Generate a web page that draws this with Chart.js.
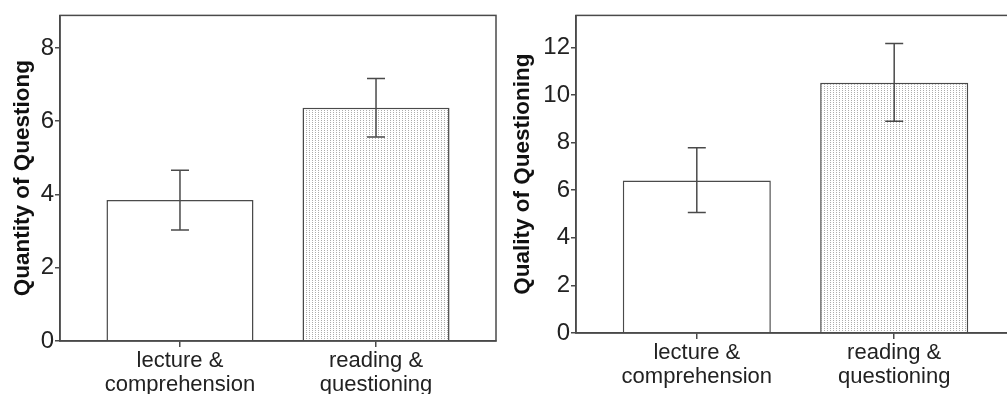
<!DOCTYPE html>
<html>
<head>
<meta charset="utf-8">
<script src="https://cdn.jsdelivr.net/npm/chart.js@4"></script>
<style>
  html, body { margin: 0; padding: 0; background: #fff; overflow: hidden; }
  #wrapLeft { position: absolute; left: 0; top: 0; width: 500px; height: 394px; }
  #wrapRight { position: absolute; left: 500px; top: 0; width: 520px; height: 394px; }
</style>
</head>
<body>
<div id="wrapLeft"><canvas id="quantityChart" width="500" height="394"></canvas></div>
<div id="wrapRight"><canvas id="qualityChart" width="520" height="394"></canvas></div>
<script>
const groups = [['lecture &', 'comprehension'], ['reading &', 'questioning']];

const quantityMeans = [3.85, 6.37];
const quantityLower = [3.03, 5.57];
const quantityUpper = [4.66, 7.17];

const qualityMeans = [6.41, 10.51];
const qualityLower = [5.06, 8.89];
const qualityUpper = [7.78, 12.16];

const yTicksQuantity = [0, 2, 4, 6, 8];
const yTicksQuality = [0, 2, 4, 6, 8, 10, 12];

const lineColor = '#4a4a4a';
const textColor = '#222';

// dotted fill like the print
function dotPattern() {
  const c = document.createElement('canvas');
  c.width = 3;
  c.height = 2;
  const g = c.getContext('2d');
  g.fillStyle = '#fff';
  g.fillRect(0, 0, 3, 2);
  g.fillStyle = '#adadad';
  g.fillRect(0, 0, 1, 1);
  return g.createPattern(c, 'repeat');
}

const frameAndErrors = {
  id: 'frameAndErrors',
  afterDatasetsDraw(chart, args, opts) {
    const { ctx, chartArea, scales } = chart;
    ctx.save();
    ctx.strokeStyle = lineColor;
    ctx.lineWidth = 1.5;
    opts.lower.forEach((lo, i) => {
      const x = scales.x.getPixelForValue(i);
      const yLo = scales.y.getPixelForValue(lo);
      const yHi = scales.y.getPixelForValue(opts.upper[i]);
      ctx.beginPath();
      ctx.moveTo(x, yLo);
      ctx.lineTo(x, yHi);
      ctx.moveTo(x - 9, yLo);
      ctx.lineTo(x + 9, yLo);
      ctx.moveTo(x - 9, yHi);
      ctx.lineTo(x + 9, yHi);
      ctx.stroke();
    });
    ctx.strokeRect(chartArea.left, chartArea.top, chartArea.right - chartArea.left, chartArea.bottom - chartArea.top);
    ctx.restore();
  }
};

function makeChart(id, title, means, lower, upper, yTicks, yMax, yWidth, xHeight, pad) {
  const pattern = dotPattern();
  return new Chart(document.getElementById(id), {
    type: 'bar',
    data: {
      datasets: [{
        data: means.map((v, i) => ({ x: i, y: v })),
        backgroundColor: ['#ffffff', pattern],
        borderColor: lineColor,
        borderWidth: 1.5,
        barPercentage: 0.75,
        categoryPercentage: 1
      }]
    },
    options: {
      responsive: false,
      animation: false,
      layout: { padding: pad },
      plugins: {
        legend: { display: false },
        tooltip: { enabled: false },
        frameAndErrors: { lower: lower, upper: upper }
      },
      scales: {
        x: {
          type: 'linear',
          offset: false,
          min: -0.612,
          max: 1.612,
          afterBuildTicks: (s) => { s.ticks = groups.map((g, i) => ({ value: i })); },
          afterFit: (s) => { s.height = xHeight; },
          grid: { offset: false, drawOnChartArea: false, drawTicks: true, tickLength: 6, color: lineColor, lineWidth: 1.5 },
          border: { display: true, color: lineColor, width: 1.5 },
          ticks: {
            autoSkip: false,
            maxRotation: 0,
            padding: 2,
            color: textColor,
            font: { family: 'Liberation Sans, Arial, sans-serif', size: 22, lineHeight: 1.08 },
            callback: (v) => groups[v]
          }
        },
        y: {
          min: 0,
          max: yMax,
          afterBuildTicks: (s) => { s.ticks = yTicks.map(v => ({ value: v })); },
          afterFit: (s) => { s.width = yWidth; },
          grid: { drawOnChartArea: false, drawTicks: true, tickLength: 5, color: lineColor, lineWidth: 1.5 },
          border: { display: true, color: lineColor, width: 1.5 },
          ticks: {
            padding: 1,
            color: textColor,
            font: { family: 'Liberation Sans, Arial, sans-serif', size: 24 }
          },
          title: {
            display: true,
            text: title,
            color: '#111',
            padding: { top: 9, bottom: 0 },
            font: { family: 'Liberation Sans, Arial, sans-serif', size: 22.5, weight: 'bold' }
          }
        }
      }
    },
    plugins: [frameAndErrors]
  });
}

makeChart('quantityChart', 'Quantity of Questiong', quantityMeans, quantityLower, quantityUpper,
  yTicksQuantity, 8.89, 60, 53, { left: 0, top: 14, right: 4, bottom: 0 });
makeChart('qualityChart', 'Quality of Questioning', qualityMeans, qualityLower, qualityUpper,
  yTicksQuality, 13.34, 76, 61, { left: 0, top: 11, right: 5, bottom: 0 });
</script>
</body>
</html>
